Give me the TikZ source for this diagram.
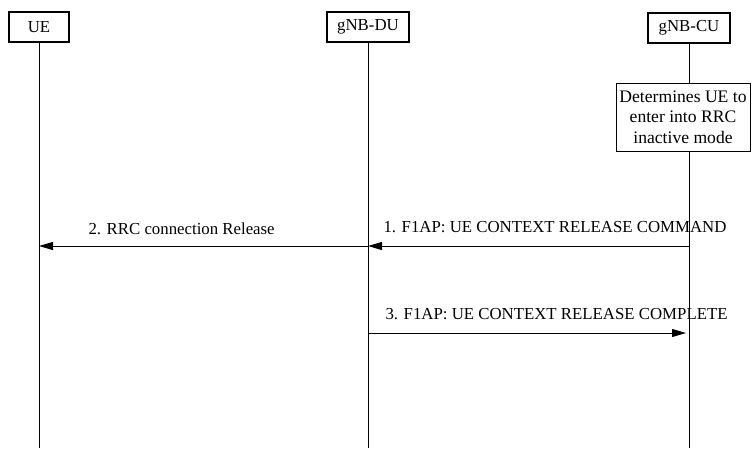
\documentclass[tikz,border=0pt]{standalone}
\usepackage{fontspec}
\setmainfont{Liberation Serif}
\usetikzlibrary{arrows.meta,positioning}

\begin{document}
\begin{tikzpicture}[x=1pt,y=-1pt,line width=1pt,>={Triangle[length=14pt,width=8pt]},font=\fontsize{16.8}{20.5}\selectfont,entity/.style={draw,line width=1.5pt,minimum height=30pt,minimum width=82pt,inner sep=0pt},note/.style={draw,fill=white,align=center,minimum width=134pt,minimum height=68pt,inner sep=0pt,font=\fontsize{17.6}{20.5}\selectfont},msg/.style={anchor=base west,inner sep=0pt}]
                    \useasboundingbox (0,0) rectangle (752,448);

                    % entities
                    \node[entity, minimum width=60pt] (ue) at (39,27) {UE};
                    \node[entity] (du) at (368,27) {gNB-DU};
                    \node[entity] (cu) at (689,28) {gNB-CU};

                    \coordinate (bottom) at (0,448);
                    \coordinate (m1) at (0,246);
                    \coordinate (m3) at (0,333);

                    % lifelines
                    \draw (ue) -- (ue |- bottom);
                    \draw (du) -- (du |- bottom);
                    \draw (cu) -- (cu |- bottom);

                    \node[note] (det) at (683,117) {Determines UE to\\enter into RRC\\inactive mode};

                    % messages
                    \draw[->] (cu |- m1) -- (du |- m1);
                    \draw[->] (du |- m1) -- (ue |- m1);
                    \draw[->,shorten >=3pt] (du |- m3) -- (cu |- m3);

                    \node[msg] (l1) at (383,232) {1. F1AP: UE CONTEXT RELEASE COMMAND};
                    \node[msg] (l2) at (88,234) {2. RRC connection Release};
                    \node[msg] (l3) at (385,319) {3. F1AP: UE CONTEXT RELEASE COMPLETE};
                \end{tikzpicture}
\end{document}
